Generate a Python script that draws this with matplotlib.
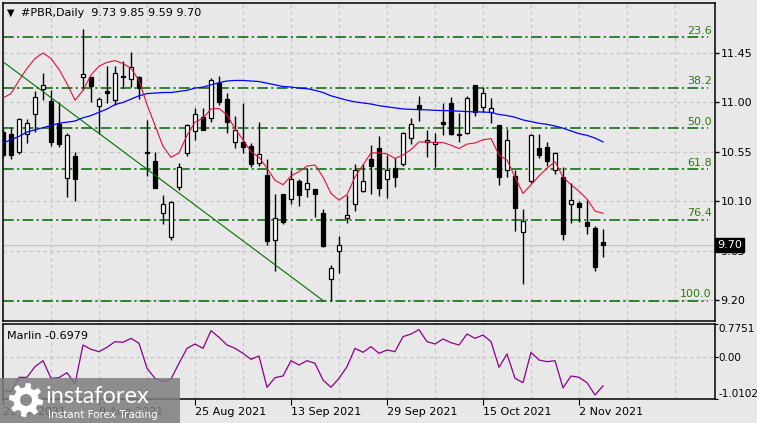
import numpy as np
import matplotlib
matplotlib.use("Agg")
import matplotlib.pyplot as plt
from matplotlib.patches import Rectangle, Polygon

# daily candles #PBR, 22 Jul 2021 .. 5 Nov 2021 (bar index 0..75)
opens = [10.73, 10.71, 10.55, 10.71, 10.89, 11.12, 11.01, 10.80, 10.31, 10.51,
         11.23, 11.23, 10.97, 11.10, 11.02, 11.24, 11.21, 11.23, 10.55, 10.47,
         9.99, 9.77, 10.23, 10.54, 10.74, 10.87, 10.86, 11.18, 11.03, 10.64,
         10.64, 10.60, 10.45, 10.34, 9.75, 10.17, 10.12, 10.28, 10.21, 10.21,
         9.99, 9.39, 9.65, 9.95, 10.07, 10.19, 10.48, 10.58, 10.30, 10.40,
         10.44, 10.68, 10.98, 10.64, 10.62, 10.82, 10.99, 10.71, 10.72, 11.16,
         10.96, 10.91, 10.79, 10.38, 10.33, 9.82, 10.28, 10.58, 10.59, 10.38,
         10.32, 10.07, 10.08, 9.91, 9.86, 9.73]
highs = [10.76, 10.77, 10.86, 10.85, 11.10, 11.27, 11.11, 11.00, 10.72, 10.55,
         11.67, 11.23, 11.05, 11.33, 11.33, 11.38, 11.46, 11.24, 10.84, 10.55,
         10.16, 10.10, 10.45, 10.80, 10.95, 10.95, 11.22, 11.24, 11.09, 10.88,
         10.99, 10.63, 10.82, 10.48, 10.17, 10.17, 10.38, 10.30, 10.40, 10.21,
         10.03, 9.52, 9.78, 10.16, 10.44, 10.44, 10.61, 10.69, 10.52, 10.49,
         10.73, 10.86, 11.06, 10.75, 10.72, 10.99, 11.05, 10.90, 11.06, 11.16,
         11.14, 11.04, 10.79, 10.76, 10.38, 10.03, 10.71, 10.71, 10.64, 10.55,
         10.41, 10.27, 10.10, 10.11, 9.87, 9.85]
lows = [10.50, 10.48, 10.53, 10.63, 10.73, 11.02, 10.60, 10.59, 10.14, 10.10,
        11.11, 11.00, 10.71, 10.99, 10.98, 11.13, 11.14, 11.03, 10.33, 10.22,
        9.89, 9.75, 10.20, 10.51, 10.66, 10.75, 10.82, 10.98, 10.72, 10.58,
        10.54, 10.41, 10.42, 9.70, 9.46, 9.89, 10.07, 10.06, 10.14, 9.96,
        9.68, 9.19, 9.45, 9.90, 10.01, 10.18, 10.17, 10.15, 10.13, 10.23,
        10.42, 10.62, 10.83, 10.50, 10.41, 10.70, 10.70, 10.64, 10.71, 10.88,
        10.91, 10.81, 10.25, 10.32, 9.83, 9.35, 10.27, 10.49, 10.42, 10.35,
        9.75, 9.90, 9.91, 9.80, 9.46, 9.59]
closes = [10.52, 10.52, 10.85, 10.81, 11.05, 11.16, 10.64, 10.62, 10.70, 10.30,
          11.26, 11.15, 11.03, 11.09, 11.27, 11.23, 11.32, 11.13, 10.54, 10.22,
          10.07, 10.09, 10.41, 10.79, 10.89, 10.75, 11.20, 11.00, 10.82, 10.75,
          10.59, 10.44, 10.53, 9.74, 9.95, 9.91, 10.30, 10.16, 10.27, 10.17,
          9.69, 9.49, 9.70, 9.97, 10.38, 10.28, 10.42, 10.22, 10.38, 10.32,
          10.72, 10.80, 10.94, 10.66, 10.64, 10.80, 10.71, 10.70, 11.04, 10.91,
          11.09, 10.95, 10.32, 10.66, 10.04, 9.92, 10.70, 10.52, 10.47, 10.54,
          9.80, 10.11, 10.05, 9.87, 9.50, 9.70]

ma_slow = [10.63, 10.66, 10.69, 10.73, 10.75, 10.77, 10.79, 10.81, 10.82, 10.83,
           10.86, 10.88, 10.91, 10.94, 10.98, 11.00, 11.03, 11.06, 11.08, 11.085,
           11.09, 11.09, 11.10, 11.11, 11.13, 11.14, 11.16, 11.18, 11.195, 11.20,
           11.20, 11.195, 11.19, 11.175, 11.16, 11.145, 11.14, 11.13, 11.125, 11.11,
           11.09, 11.06, 11.04, 11.02, 11.005, 10.995, 10.985, 10.97, 10.96, 10.95,
           10.94, 10.937, 10.934, 10.932, 10.928, 10.925, 10.924, 10.92, 10.916, 10.914,
           10.912, 10.909, 10.89, 10.88, 10.865, 10.84, 10.825, 10.81, 10.80, 10.785,
           10.765, 10.74, 10.715, 10.70, 10.675, 10.64]
ma_fast = [11.04, 11.08, 11.20, 11.31, 11.40, 11.45, 11.40, 11.30, 11.17, 11.02,
           11.11, 11.25, 11.33, 11.365, 11.38, 11.355, 11.31, 11.20, 10.98, 10.79,
           10.60, 10.50, 10.54, 10.70, 10.82, 10.855, 10.94, 10.945, 10.885, 10.76,
           10.66, 10.55, 10.50, 10.40, 10.29, 10.25, 10.33, 10.37, 10.42, 10.43,
           10.32, 10.17, 10.11, 10.16, 10.32, 10.43, 10.54, 10.54, 10.53, 10.49,
           10.52, 10.57, 10.64, 10.64, 10.635, 10.635, 10.61, 10.58, 10.62, 10.63,
           10.66, 10.67, 10.52, 10.475, 10.32, 10.17, 10.25, 10.33, 10.40, 10.46,
           10.32, 10.25, 10.19, 10.12, 10.01, 9.99]

marlin = [-0.796, -0.836, -0.494, -0.494, -0.240, -0.098, -0.518, -0.502, -0.383, -0.653,
          0.275, 0.172, 0.117, 0.220, 0.355, 0.339, 0.434, 0.315, -0.280, -0.518,
          -0.597, -0.534, -0.161, 0.196, 0.299, 0.196, 0.616, 0.458, 0.275, 0.196,
          0.077, -0.066, 0.013, -0.733, -0.502, -0.463, -0.098, -0.201, -0.098, -0.161,
          -0.558, -0.733, -0.518, -0.240, 0.196, 0.101, 0.236, 0.077, 0.156, 0.117,
          0.474, 0.537, 0.640, 0.355, 0.299, 0.418, 0.331, 0.275, 0.537, 0.434,
          0.513, 0.355, -0.256, 0.061, -0.518, -0.621, 0.101, -0.082, -0.121, -0.098,
          -0.745, -0.463, -0.494, -0.621, -0.915, -0.698]

trend_x = [0, 40]
trend_y = [11.37, 9.195]

fib_top = 12.335
fib_bottom = 9.19
fib_ratios = [23.6, 38.2, 50.0, 61.8, 76.4, 100.0]

price_ticks = [11.45, 11.00, 10.55, 10.10, 9.65, 9.20]
marlin_ticks = [0.7751, 0.0, -1.0102]
marlin_labels = ["0.7751", "0.00", "-1.0102"]
date_pos = [0, 12, 24, 36, 48, 60, 72]
date_labels = ["22 Jul 2021", "9 Aug 2021", "25 Aug 2021", "13 Sep 2021",
               "29 Sep 2021", "15 Oct 2021", "2 Nov 2021"]

BG = "#e8e8e8"
GRID = "#c2c2c2"
FIBC = "#006400"
W, H = 757, 423

def px(x0, y0, x1, y1):
    return [x0 / W, 1 - y1 / H, (x1 - x0) / W, (y1 - y0) / H]

plt.rcParams["font.family"] = ["DejaVu Sans"]
fig = plt.figure(figsize=(W / 100, H / 100), dpi=100, facecolor=BG)
ax = fig.add_axes(px(3, 3, 715, 321), facecolor=BG)
ax2 = fig.add_axes(px(3, 324, 715, 399), facecolor=BG)

# ---- main chart
x = np.arange(len(closes))
o, h, l, c = map(np.array, (opens, highs, lows, closes))
up = c >= o
ax.vlines(x, l, h, color="black", lw=1.0, zorder=3)
body = np.maximum(np.abs(c - o), 0.012)
ax.bar(x, body, bottom=np.minimum(o, c), width=0.6,
       color=np.where(up, "white", "black"), edgecolor="black", lw=0.9, zorder=4)

ax.plot(x, ma_slow, color="#0000ff", lw=0.9, zorder=5)
ax.plot(x, ma_fast, color="#e0103a", lw=0.8, zorder=5)
ax.plot(trend_x, trend_y, color="#007000", lw=0.8, zorder=5)

for r in fib_ratios:
    lev = fib_bottom + (fib_top - fib_bottom) * (1 - r / 100)
    ax.plot([0, 88.1], [lev, lev], color=FIBC, lw=1.1, zorder=2,
            dashes=(7, 2.2, 1.4, 2.2))
    ax.text(88.6, lev + 0.015, f"{r:.1f}", ha="right", va="bottom",
            color="#2d7a0c", fontsize=8, zorder=6)

ax.axhline(closes[-1], color="#c4c4c4", lw=0.9, zorder=1)

ax.set_xlim(0, 89)
ax.set_ylim(9.0085, 11.9055)
ax.set_xticks(np.arange(0, 89, 6))
ax.tick_params(axis="x", length=0, labelbottom=False)
ax.yaxis.tick_right()
ax.set_yticks(price_ticks)
ax.set_yticklabels([f"{v:.2f}" for v in price_ticks])
ax.tick_params(axis="y", direction="out", length=3, width=1, labelsize=8, pad=1)
ax.grid(True, color=GRID, ls=(0, (3, 3)), lw=0.8)
ax.set_axisbelow(True)
for s in ax.spines.values():
    s.set_color("black")
    s.set_linewidth(1.1)

ax.text(1.003, closes[-1], f"{closes[-1]:.2f}", transform=ax.get_yaxis_transform(),
        color="white", fontsize=8, va="center", ha="left", zorder=10, clip_on=False,
        bbox=dict(boxstyle="square,pad=0.18", fc="black", ec="black"))

fig.text(11 / W, 1 - 13 / H, "\u25bc", fontsize=7, va="center", ha="center")
fig.text(21 / W, 1 - 13 / H, "#PBR,Daily  9.73 9.85 9.59 9.70", fontsize=8, va="center")

# ---- Marlin panel
ax2.plot(x, marlin, color="#8b008b", lw=0.9, zorder=3)
ax2.axhline(0, color=GRID, ls=(0, (3, 3)), lw=0.8, zorder=1)
ax2.set_xlim(0, 89)
ax2.set_ylim(-1.0102, 0.7751)
ax2.set_xticks(date_pos)
ax2.set_xticklabels(date_labels, ha="left")
ax2.set_xticks(np.arange(0, 89, 6), minor=True)
ax2.tick_params(axis="x", which="major", direction="out", length=4, labelsize=8, pad=2)
ax2.tick_params(axis="x", which="minor", length=0)
ax2.grid(True, axis="x", which="both", color=GRID, ls=(0, (3, 3)), lw=0.8)
ax2.set_axisbelow(True)
ax2.yaxis.tick_right()
ax2.set_yticks(marlin_ticks)
ax2.set_yticklabels(marlin_labels)
ax2.tick_params(axis="y", direction="out", length=2, labelsize=7.5, pad=0.5)
labs = ax2.get_yticklabels()
labs[0].set_verticalalignment("top")
labs[-1].set_verticalalignment("bottom")
for s in ax2.spines.values():
    s.set_color("black")
    s.set_linewidth(1.1)
fig.text(7 / W, 1 - 336 / H, "Marlin -0.6979", fontsize=8, va="center")

# ---- watermark
fig.add_artist(Rectangle((0, 0), 180 / W, 45 / H, transform=fig.transFigure,
                         facecolor="#7d7d7d", alpha=0.85, edgecolor="none", zorder=20))
gx, gy = 26, 400
ang = np.linspace(0, 2 * np.pi, 65)[:-1]
rad = np.where((np.arange(64) // 4) % 2 == 0, 17, 12.5)
gear = np.column_stack([(gx + rad * np.cos(ang)) / W, 1 - (gy + rad * np.sin(ang)) / H])
fig.add_artist(Polygon(gear, closed=True, transform=fig.transFigure,
                       facecolor="white", edgecolor="none", zorder=21))
fig.add_artist(Polygon(np.column_stack([(gx + 6 * np.cos(ang)) / W,
                                        1 - (gy + 6 * np.sin(ang)) / H]),
                       closed=True, transform=fig.transFigure,
                       facecolor="#8a8a8a", edgecolor="none", zorder=22))
fig.text(46 / W, 1 - 396 / H, "instaforex", fontsize=17, color="white",
         va="center", ha="left", zorder=22, family=["Lato", "DejaVu Sans"])
fig.text(48 / W, 1 - 415 / H, "Instant Forex Trading", fontsize=7.5, color="white",
         va="center", ha="left", zorder=22)

fig.savefig("out.png", dpi=100, facecolor=BG)
